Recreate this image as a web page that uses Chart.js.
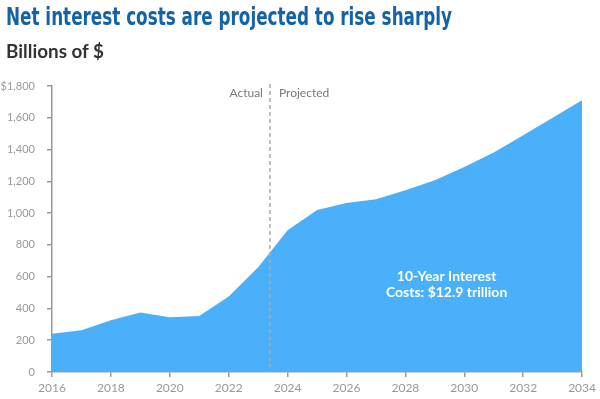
<!DOCTYPE html>
<html>
<head>
<meta charset="utf-8">
<script src="https://cdn.jsdelivr.net/npm/chart.js@4.4.1/dist/chart.umd.min.js"></script>
<style>
  html, body { margin: 0; padding: 0; background: #fff; }
  #wrap { position: relative; width: 600px; height: 399px; overflow: hidden; }
  #title {
    position: absolute; left: 6px; top: 2px; white-space: nowrap;
    font-family: "Liberation Sans Narrow", "DejaVu Sans Condensed", "Roboto", sans-serif;
    font-weight: bold; font-size: 25px; color: #1463a8; transform-origin: 0 0;
  }
  #subtitle {
    position: absolute; left: 6px; top: 40px; white-space: nowrap;
    font-family: Lato, sans-serif; font-weight: bold; font-size: 18px; color: #333;
  }
  canvas { position: absolute; left: 0; top: 0; }
</style>
</head>
<body>
<div id="wrap">
  <canvas id="chart" width="600" height="399"></canvas>
  <div id="title">Net interest costs are projected to rise sharply</div>
  <div id="subtitle">Billions of $</div>
</div>
<script>
// DATA
const years = [2016, 2017, 2018, 2019, 2020, 2021, 2022, 2023, 2024, 2025,
               2026, 2027, 2028, 2029, 2030, 2031, 2032, 2033, 2034];
const netInterest = [240, 263, 325, 375, 345, 352, 475, 659, 892, 1020,
                     1063, 1088, 1144, 1207, 1290, 1381, 1490, 1600, 1711];
const yTicks = [0, 200, 400, 600, 800, 1000, 1200, 1400, 1600, 1800];
const xTicks = [2016, 2018, 2020, 2022, 2024, 2026, 2028, 2030, 2032, 2034];
const splitYear = 2023.4;
const noteLines = ["10-Year Interest", "Costs: $12.9 trillion"];

// fit the title width to the reference
const titleEl = document.getElementById("title");
const tw = titleEl.getBoundingClientRect().width;
titleEl.style.transform = `scaleX(${446 / tw})`;
const subEl = document.getElementById("subtitle");
const sw = subEl.getBoundingClientRect().width;
subEl.style.transformOrigin = '0 0';
subEl.style.transform = `scaleX(${98 / sw})`;

const tickColor = '#999';
const axisColor = '#999';

// dashed divider + labels
const annotations = {
    id: 'annotations',
    afterDatasetsDraw(chart) {
        const { ctx, scales: { x, y } } = chart;
        const px = x.getPixelForValue(splitYear);
        ctx.save();
        ctx.strokeStyle = '#aaa';
        ctx.lineWidth = 1.5;
        ctx.setLineDash([4, 3]);
        ctx.beginPath();
        ctx.moveTo(px, 84);
        ctx.lineTo(px, y.getPixelForValue(0));
        ctx.stroke();
        ctx.setLineDash([]);

        ctx.font = '12px Lato, sans-serif';
        ctx.fillStyle = '#777';
        ctx.textBaseline = 'middle';
        ctx.textAlign = 'right';
        ctx.fillText('Actual', px - 7, 93);
        ctx.textAlign = 'left';
        ctx.fillText('Projected', px + 9, 93);

        ctx.font = 'bold 14px Lato, sans-serif';
        ctx.fillStyle = '#fff';
        ctx.textAlign = 'center';
        const cx = x.getPixelForValue(2029.4);
        ctx.fillText(noteLines[0], cx, y.getPixelForValue(604));
        ctx.fillText(noteLines[1], cx, y.getPixelForValue(503));
        ctx.restore();
    }
};

new Chart(document.getElementById("chart"), {
    type: 'line',
    data: {
        datasets: [{
            data: years.map((yr, i) => ({ x: yr, y: netInterest[i] })),
            borderWidth: 0,
            borderColor: '#4ab0fa',
            backgroundColor: '#4ab0fa',
            fill: 'origin',
            pointRadius: 0,
            tension: 0
        }]
    },
    options: {
        responsive: false,
        animation: false,
        layout: { padding: { top: 86, right: 17, bottom: 0, left: 0 } },
        plugins: { legend: { display: false }, tooltip: { enabled: false } },
        scales: {
            x: {
                type: 'linear',
                min: 2016, max: 2034,
                afterBuildTicks: s => { s.ticks = xTicks.map(v => ({ value: v })); },
                ticks: {
                    color: tickColor, padding: 4,
                    font: { family: 'Lato', size: 12 },
                    callback: v => String(v),
                    maxRotation: 0
                },
                grid: { drawOnChartArea: false, color: axisColor, tickLength: 5, lineWidth: 1.5 },
                border: { color: axisColor, width: 1.5 },
                afterFit: s => { s.height = 27; }
            },
            y: {
                min: 0, max: 1800,
                afterBuildTicks: s => { s.ticks = yTicks.map(v => ({ value: v })); },
                ticks: {
                    color: tickColor, padding: 12,
                    font: { family: 'Lato', size: 11 },
                    callback: v => (v === 1800 ? '$' : '') + v.toLocaleString('en-US')
                },
                grid: { drawOnChartArea: false, color: axisColor, tickLength: 5, lineWidth: 1.5 },
                border: { color: axisColor, width: 1.5 },
                afterFit: s => { s.width = 52; }
            }
        }
    },
    plugins: [annotations]
});
</script>
</body>
</html>
